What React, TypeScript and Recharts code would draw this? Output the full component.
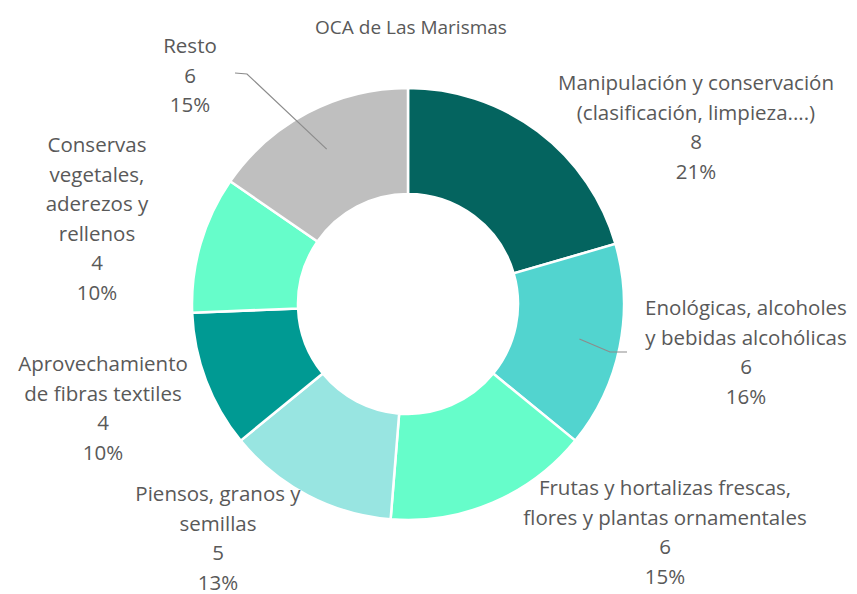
import React from "react";
import { PieChart, Pie, Cell } from "recharts";

const categories = [
  "Manipulación y conservación\n(clasificación, limpieza....)",
  "Enológicas, alcoholes\ny bebidas alcohólicas",
  "Frutas y hortalizas frescas,\nflores y plantas ornamentales",
  "Piensos, granos y\nsemillas",
  "Aprovechamiento\nde fibras textiles",
  "Conservas\nvegetales,\naderezos y\nrellenos",
  "Resto",
];
const values = [8, 6, 6, 5, 4, 4, 6];
const percentLabels = ["21%", "16%", "15%", "13%", "10%", "10%", "15%"];
const colors = ["#04645F", "#52D4CF", "#66FDCA", "#98E5E1", "#009A93", "#66FDCA", "#BFBFBF"];
const title = "OCA de Las Marismas";

const data = categories.map((name, i) => ({ name, value: values[i], pct: percentLabels[i] }));

// label layout: offsets from the pie centre (first baseline), plus optional leader elbow
const labelLayout = [
  { dx: 288, dy: -214 },
  { dx: 338, dy: 11, lead: [[219, 48], [202, 48]] },
  { dx: 257, dy: 191 },
  { dx: -190, dy: 197 },
  { dx: -305, dy: 67 },
  { dx: -311, dy: -152 },
  { dx: -218, dy: -251, lead: [[-173, -231], [-161, -230]] },
];

const FONT = "'Open Sans', sans-serif";
const TEXT = "#595959";
const LINE_H = 29.5;
const RAD = Math.PI / 180;

const renderLabel = (props: any) => {
  const { cx, cy, midAngle, index, outerRadius } = props;
  const lay = labelLayout[index];
  const d = data[index];
  const lines = [...d.name.split("\n"), String(d.value), d.pct];
  const x = cx + lay.dx;
  const y0 = cy + lay.dy;
  let leader = null;
  if (lay.lead) {
    const r = outerRadius * 0.81;
    const px = cx + r * Math.cos(-midAngle * RAD);
    const py = cy + r * Math.sin(-midAngle * RAD);
    const pts = [
      [cx + lay.lead[0][0], cy + lay.lead[0][1]],
      [cx + lay.lead[1][0], cy + lay.lead[1][1]],
      [px, py],
    ];
    leader = (
      <polyline
        points={pts.map((p) => p.join(",")).join(" ")}
        fill="none"
        stroke="#8C8C8C"
        strokeWidth={1.2}
      />
    );
  }
  return (
    <g key={`lbl-${index}`}>
      {leader}
      <text x={x} y={y0} textAnchor="middle" fontFamily={FONT} fontSize={20.5} fill={TEXT}>
        {lines.map((ln, i) => (
          <tspan key={i} x={x} y={y0 + i * LINE_H}>
            {ln}
          </tspan>
        ))}
      </text>
    </g>
  );
};

export default function App() {
  return (
    <div style={{ position: "absolute", left: 0, top: 0, width: 857, height: 594, background: "#fff" }}>
      <PieChart width={857} height={594} margin={{ top: 0, right: 0, bottom: 0, left: 0 }}>
        <text x={411} y={34} textAnchor="middle" fontFamily={FONT} fontSize={19} fill={TEXT}>
          {title}
        </text>
        <Pie
          data={data}
          dataKey="value"
          nameKey="name"
          cx={408}
          cy={304}
          innerRadius={110}
          outerRadius={216}
          startAngle={90}
          endAngle={-270}
          stroke="#FFFFFF"
          strokeWidth={2.5}
          label={renderLabel}
          labelLine={false}
          isAnimationActive={false}
        >
          {data.map((d, i) => (
            <Cell key={i} fill={colors[i]} />
          ))}
        </Pie>
      </PieChart>
    </div>
  );
}
